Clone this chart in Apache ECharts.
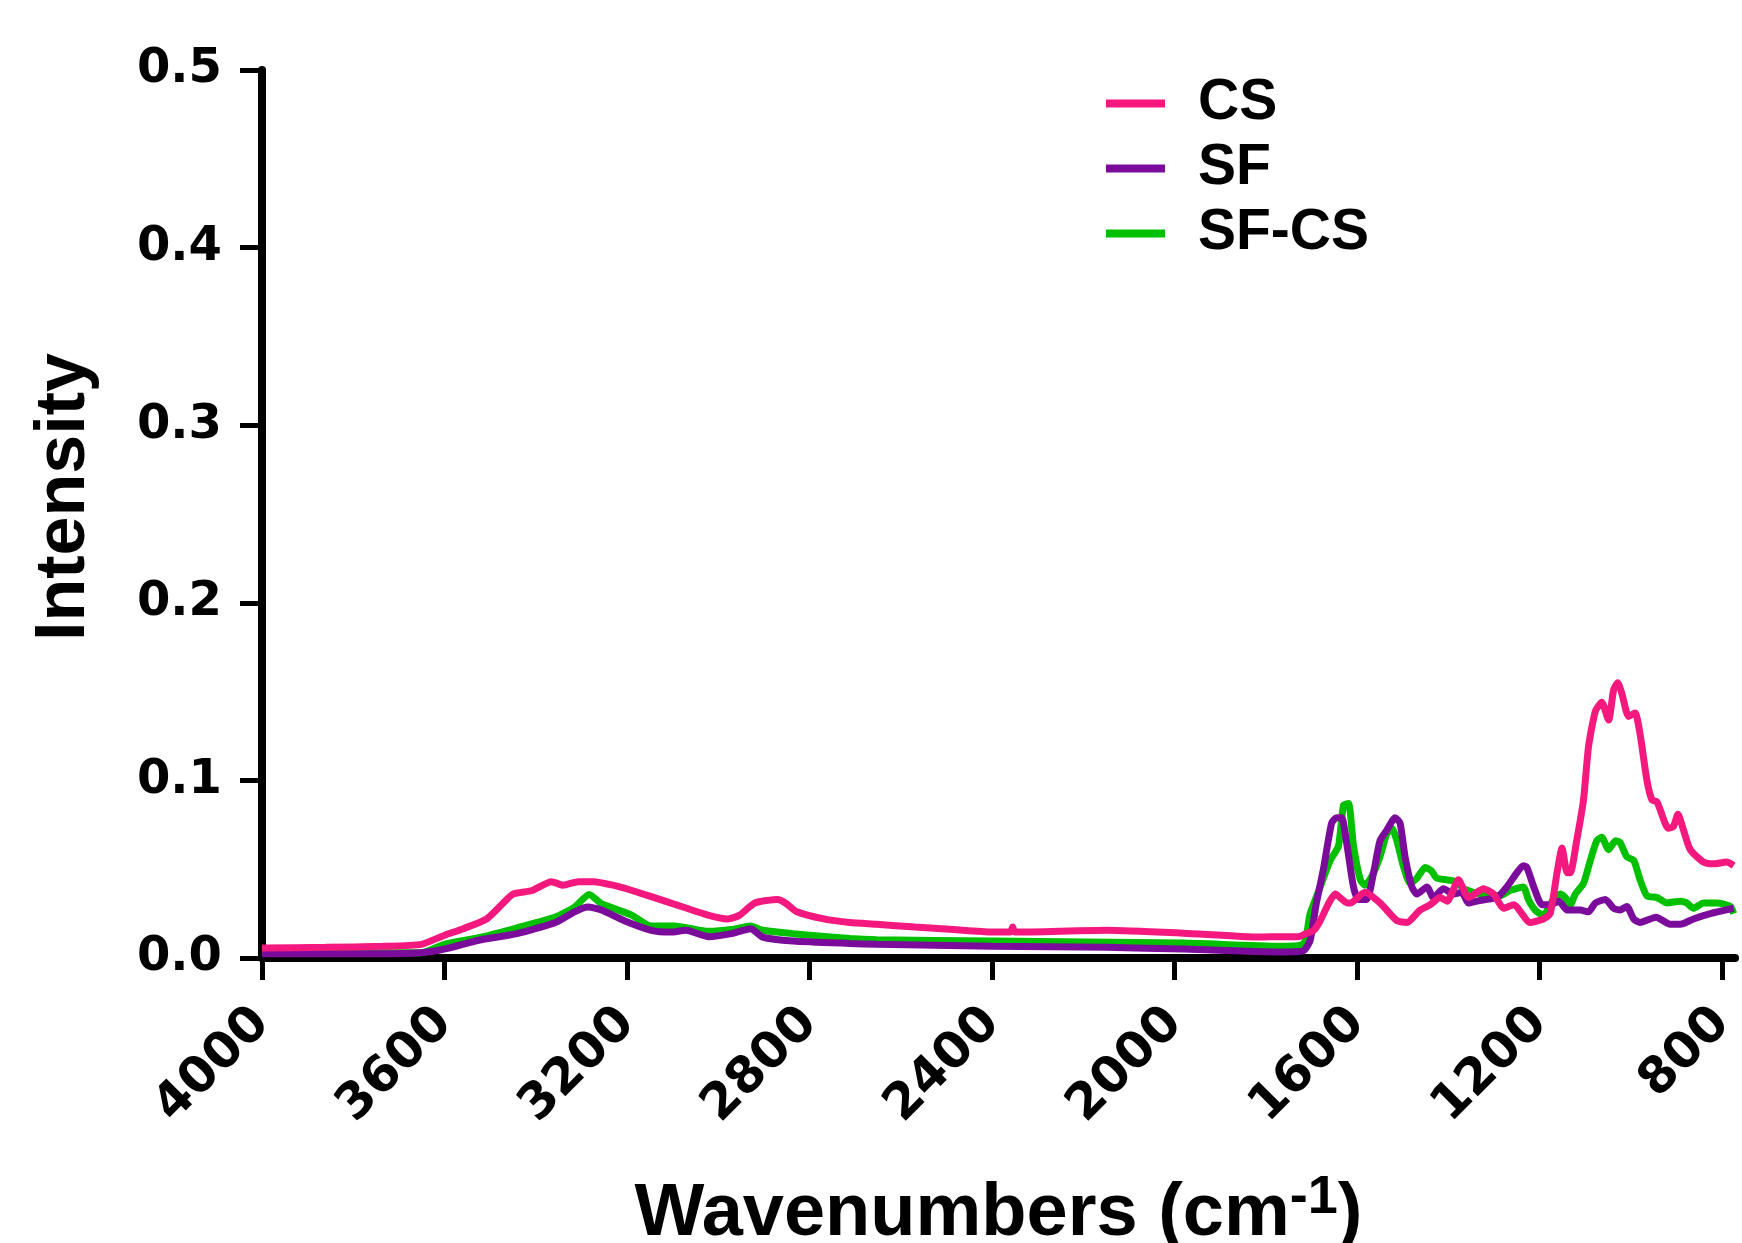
<!DOCTYPE html>
<html>
<head>
<meta charset="utf-8">
<script src="https://cdn.jsdelivr.net/npm/echarts@6/dist/echarts.min.js"></script>
<style>
  html, body { margin: 0; padding: 0; background: #fff; }
  #chart { width: 1742px; height: 1243px; }
</style>
</head>
<body>
<div id="chart"></div>
<script>
// tick labels on the wavenumber axis
const xTicks = [4000, 3600, 3200, 2800, 2400, 2000, 1600, 1200, 800]

// CS spectrum
const csWn = [4000, 3861, 3735, 3651, 3601, 3559, 3508, 3475, 3450, 3408, 3366, 3340, 3307, 3273, 3231, 3189,
  3105, 3021, 2979, 2954, 2920, 2870, 2853, 2828, 2769, 2712, 2653, 2569, 2485, 2401, 2360, 2355, 2350, 2149,
  1981, 1813, 1769, 1729, 1710, 1695, 1681, 1661, 1648, 1622, 1615, 1583, 1550, 1513, 1491, 1462, 1440, 1418,
  1403, 1378, 1356, 1323, 1301, 1279, 1257, 1221, 1192, 1177, 1162, 1151, 1140, 1133, 1119, 1104, 1093, 1078,
  1064, 1049, 1038, 1029, 1020, 1005, 991, 980, 965, 954, 943, 918, 907, 897, 886, 870, 841, 819, 790, 775]
const csInt = [0.0056, 0.006, 0.0066, 0.0077, 0.0127, 0.0165, 0.022, 0.030, 0.036, 0.038, 0.043, 0.041, 0.043, 0.043, 0.041, 0.038,
  0.031, 0.024, 0.022, 0.024, 0.031, 0.033, 0.031, 0.026, 0.022, 0.020, 0.019, 0.0174, 0.016, 0.0146, 0.0146, 0.0174, 0.0146, 0.0156,
  0.014, 0.0118, 0.012, 0.012, 0.014, 0.0156, 0.021, 0.0315, 0.036, 0.031, 0.031, 0.037, 0.031, 0.021, 0.020, 0.027, 0.030, 0.034,
  0.032, 0.044, 0.034, 0.039, 0.036, 0.028, 0.030, 0.020, 0.022, 0.025, 0.048, 0.062, 0.048, 0.048, 0.066, 0.089, 0.119, 0.139,
  0.144, 0.134, 0.151, 0.155, 0.149, 0.136, 0.138, 0.126, 0.100, 0.089, 0.088, 0.073, 0.074, 0.081, 0.073, 0.061, 0.054, 0.053, 0.054, 0.052]

// SF spectrum
const sfWn = [4000, 3777, 3651, 3601, 3525, 3441, 3357, 3315, 3286, 3256, 3206, 3147, 3105, 3071, 3021, 2971,
  2929, 2903, 2836, 2712, 2653, 2401, 2149, 1981, 1771, 1718, 1703, 1690, 1674, 1656, 1645, 1634, 1622, 1608,
  1597, 1579, 1564, 1550, 1535, 1517, 1506, 1495, 1480, 1469, 1447, 1433, 1411, 1389, 1371, 1356, 1338, 1316,
  1294, 1272, 1250, 1236, 1228, 1213, 1195, 1177, 1158, 1140, 1111, 1093, 1078, 1056, 1038, 1024, 1009, 994,
  980, 945, 914, 892, 863, 826, 775]
const sfInt = [0.0024, 0.0024, 0.003, 0.005, 0.010, 0.0137, 0.020, 0.026, 0.0287, 0.027, 0.021, 0.0156, 0.0146, 0.0156, 0.012, 0.0137,
  0.0165, 0.0118, 0.0096, 0.0082, 0.0077, 0.0066, 0.006, 0.005, 0.0034, 0.004, 0.010, 0.030, 0.050, 0.076, 0.079, 0.079, 0.063, 0.040,
  0.033, 0.033, 0.048, 0.066, 0.072, 0.079, 0.076, 0.057, 0.040, 0.036, 0.040, 0.034, 0.039, 0.036, 0.037, 0.031, 0.032, 0.033,
  0.034, 0.040, 0.048, 0.052, 0.051, 0.040, 0.030, 0.030, 0.032, 0.027, 0.027, 0.026, 0.031, 0.033, 0.028, 0.027, 0.029, 0.022,
  0.020, 0.023, 0.019, 0.019, 0.022, 0.025, 0.028]

// SF-CS spectrum
const sfcsWn = [4000, 3651, 3601, 3525, 3441, 3357, 3315, 3283, 3256, 3189, 3147, 3097, 3021, 2971, 2929, 2903,
  2836, 2712, 2653, 2401, 1981, 1771, 1718, 1703, 1681, 1659, 1641, 1630, 1619, 1608, 1593, 1583, 1568, 1550,
  1535, 1524, 1513, 1498, 1484, 1469, 1451, 1437, 1426, 1403, 1382, 1367, 1345, 1316, 1287, 1265, 1236, 1225,
  1210, 1192, 1170, 1155, 1144, 1133, 1122, 1104, 1089, 1075, 1064, 1049, 1034, 1024, 1009, 994, 980, 965,
  943, 921, 892, 878, 863, 841, 812, 782, 775]
const sfcsInt = [0.003, 0.003, 0.0077, 0.0114, 0.017, 0.023, 0.0287, 0.0358, 0.0306, 0.024, 0.018, 0.018, 0.015, 0.016, 0.018, 0.0156,
  0.0137, 0.011, 0.0103, 0.0096, 0.0084, 0.0066, 0.008, 0.025, 0.040, 0.055, 0.063, 0.086, 0.087, 0.063, 0.044, 0.041, 0.046, 0.057,
  0.070, 0.073, 0.066, 0.051, 0.042, 0.045, 0.051, 0.049, 0.045, 0.044, 0.043, 0.039, 0.037, 0.035, 0.035, 0.038, 0.040, 0.033,
  0.027, 0.024, 0.033, 0.036, 0.034, 0.030, 0.036, 0.042, 0.055, 0.066, 0.068, 0.061, 0.066, 0.065, 0.057, 0.055, 0.044, 0.035,
  0.034, 0.031, 0.032, 0.031, 0.028, 0.031, 0.031, 0.029, 0.025]

const zip = (xs, ys) => xs.map((x, i) => [x, ys[i]])

const tickFont = 'DejaVu Sans'
const titleFont = 'Liberation Sans'

const chart = echarts.init(document.getElementById('chart'))

const lineSeries = (name, wn, vals, color, z) => ({
  name,
  type: 'line',
  data: zip(wn, vals),
  showSymbol: false,
  smooth: 0.2,
  z,
  lineStyle: { color, width: 7 },
  itemStyle: { color },
})

chart.setOption({
  animation: false,
  grid: { left: 262, right: 7, top: 70, bottom: 285, outerBoundsMode: 'none' },
  legend: {
    data: ['CS', 'SF', 'SF-CS'],
    orient: 'vertical',
    left: 1101,
    top: 70,
    icon: 'rect',
    itemWidth: 59,
    itemHeight: 8,
    itemGap: 8,
    textStyle: {
      fontFamily: titleFont,
      fontWeight: 'bold',
      fontSize: 57,
      lineHeight: 56,
      color: '#000',
      padding: [0, 0, 0, 28],
    },
  },
  xAxis: {
    type: 'value',
    inverse: true,
    min: 772,
    max: 4000,
    splitLine: { show: false },
    axisLine: { lineStyle: { color: '#000', width: 8 } },
    axisTick: { customValues: xTicks, length: 22, lineStyle: { color: '#000', width: 5 } },
    axisLabel: {
      customValues: xTicks,
      formatter: (v) => String(v),
      rotate: 45,
      margin: 58,
      color: '#000',
      fontFamily: tickFont,
      fontWeight: 'bold',
      fontSize: 50,
    },
    name: 'Wavenumbers (cm{sup|-1})',
    nameLocation: 'middle',
    nameGap: 213,
    nameTextStyle: {
      fontFamily: titleFont,
      fontWeight: 'bold',
      fontSize: 74,
      color: '#000',
      rich: {
        sup: { fontFamily: titleFont, fontWeight: 'bold', fontSize: 54, padding: [0, 0, 34, 0], color: '#000' },
      },
    },
  },
  yAxis: {
    type: 'value',
    min: 0,
    max: 0.5,
    interval: 0.1,
    splitLine: { show: false },
    axisLine: { show: true, lineStyle: { color: '#000', width: 8 } },
    axisTick: { show: true, length: 22, lineStyle: { color: '#000', width: 5 } },
    axisLabel: {
      margin: 40,
      color: '#000',
      fontFamily: tickFont,
      fontWeight: 'bold',
      fontSize: 48,
      formatter: (v) => v.toFixed(1),
    },
    name: 'Intensity',
    nameLocation: 'middle',
    nameRotate: 90,
    nameGap: 162,
    nameTextStyle: {
      fontFamily: titleFont,
      fontWeight: 'bold',
      fontSize: 70,
      color: '#000',
      padding: [0, 0, 0, 34],
    },
  },
  series: [
    lineSeries('SF-CS', sfcsWn, sfcsInt, '#00C000', 2),
    lineSeries('SF', sfWn, sfInt, '#7B0C9B', 3),
    lineSeries('CS', csWn, csInt, '#F5197F', 4),
  ],
})
</script>
</body>
</html>
